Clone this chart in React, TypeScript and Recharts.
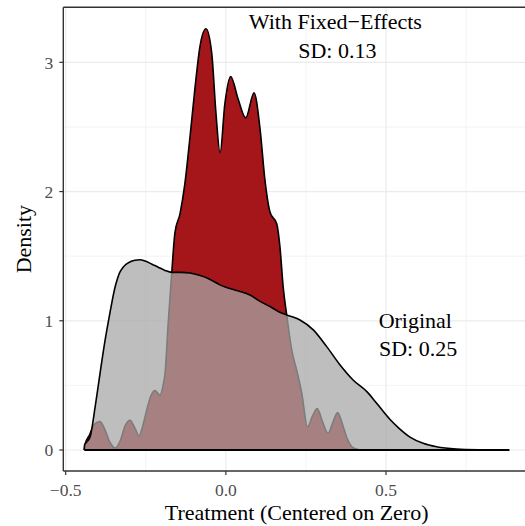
import React from "react";
import {
  ComposedChart,
  Area,
  XAxis,
  YAxis,
  CartesianGrid,
  ReferenceLine,
  ReferenceDot,
  Label,
} from "recharts";

// Fixed-effects density (dark red)
const fixedX = [
  -0.442, -0.44, -0.425, -0.41, -0.393, -0.378, -0.362, -0.346, -0.33, -0.314,
  -0.299, -0.284, -0.271, -0.258, -0.245, -0.232, -0.221, -0.206, -0.196, -0.19,
  -0.18, -0.169, -0.159, -0.143, -0.128, -0.112, -0.096, -0.081, -0.062, -0.044,
  -0.031, -0.018, -0.003, 0.015, 0.039, 0.062, 0.088, 0.107, 0.122, 0.138,
  0.159, 0.169, 0.179, 0.19, 0.206, 0.221, 0.237, 0.255, 0.27, 0.285,
  0.303, 0.319, 0.335, 0.349, 0.364, 0.377, 0.398, 0.42,
];
const fixedY = [
  0, 0.04, 0.12, 0.2, 0.22, 0.16, 0.06, 0.015, 0.07, 0.19,
  0.23, 0.17, 0.11, 0.2, 0.33, 0.43, 0.46, 0.425, 0.5, 0.59,
  0.98, 1.37, 1.68, 1.83, 2.06, 2.42, 2.81, 3.12, 3.26, 3.07,
  2.61, 2.3, 2.68, 2.89, 2.71, 2.57, 2.765, 2.48, 2.09, 1.84,
  1.75, 1.57, 1.26, 1.045, 0.77, 0.62, 0.44, 0.18, 0.26, 0.32,
  0.21, 0.13, 0.22, 0.29, 0.2, 0.1, 0.015, 0,
];

// Original density (grey, translucent)
const origX = [
  -0.442, -0.441, -0.435, -0.424, -0.408, -0.393, -0.377, -0.362, -0.346, -0.338,
  -0.33, -0.322, -0.315, -0.3, -0.284, -0.268, -0.252, -0.232, -0.211, -0.19,
  -0.169, -0.14, -0.112, -0.08, -0.049, -0.02, 0.0, 0.04, 0.075, 0.107,
  0.138, 0.165, 0.19, 0.2315, 0.273, 0.315, 0.356, 0.398, 0.441, 0.465,
  0.491, 0.515, 0.54, 0.575, 0.616, 0.658, 0.72, 0.8, 0.885,
];
const origY = [
  0, 0.04, 0.06, 0.1, 0.335, 0.59, 0.85, 1.06, 1.26, 1.33,
  1.38, 1.41, 1.43, 1.455, 1.468, 1.472, 1.462, 1.44, 1.415, 1.39,
  1.375, 1.375, 1.37, 1.35, 1.32, 1.28, 1.26, 1.23, 1.2, 1.15,
  1.11, 1.07, 1.045, 1.006, 0.93, 0.8, 0.66, 0.54, 0.45, 0.38,
  0.3, 0.23, 0.17, 0.1, 0.052, 0.025, 0.008, 0.002, 0,
];

const xTicks = [-0.5, 0, 0.5];
const xMinor = [-0.25, 0.25, 0.75];
const yTicks = [0, 1, 2, 3];
const yMinor = [0.5, 1.5, 2.5];

const xLabel = "Treatment (Centered on Zero)";
const yLabel = "Density";

const annotations = [
  { x: 0.342, y: 3.316, text: "With Fixed\u2212Effects" },
  { x: 0.348, y: 3.091, text: "SD: 0.13" },
  { x: 0.5915, y: 1.007, text: "Original" },
  { x: 0.6, y: 0.788, text: "SD: 0.25" },
];

const X_DOMAIN: [number, number] = [-0.5075, 0.934];
const Y_DOMAIN: [number, number] = [-0.1625, 3.426];

const FONT = "'Liberation Serif', 'Times New Roman', serif";

// merge the two series into one table keyed by x
const data = (() => {
  const map = new Map<number, { x: number; fixed?: number; original?: number }>();
  fixedX.forEach((x, i) => {
    const r = map.get(x) || { x };
    r.fixed = fixedY[i];
    map.set(x, r);
  });
  origX.forEach((x, i) => {
    const r = map.get(x) || { x };
    r.original = origY[i];
    map.set(x, r);
  });
  return Array.from(map.values()).sort((a, b) => a.x - b.x);
})();

const fmtX = (v: number) =>
  v < 0 ? "\u2212" + Math.abs(v).toFixed(1) : v.toFixed(1);

const XTitle = (props: any) => {
  const vb = props.viewBox || { x: 63, y: 471, width: 462, height: 55 };
  return (
    <text
      x={vb.x + vb.width / 2 + 2.5}
      y={vb.y + 49}
      textAnchor="middle"
      fontSize={22}
      fontFamily={FONT}
      fill="#000"
    >
      {xLabel}
    </text>
  );
};

const YTitle = (props: any) => {
  const vb = props.viewBox || { x: 0, y: 7, width: 63, height: 464 };
  const x = vb.x + 30.5;
  const y = vb.y + vb.height / 2;
  return (
    <text
      x={x}
      y={y}
      transform={`rotate(-90, ${x}, ${y})`}
      textAnchor="middle"
      fontSize={22}
      fontFamily={FONT}
      fill="#000"
    >
      {yLabel}
    </text>
  );
};

export default function App() {
  return (
    <div style={{ position: "absolute", left: 0, top: 0 }}>
      <ComposedChart
        width={525}
        height={526}
        data={data}
        margin={{ top: 7.3, right: 0, left: 0.3, bottom: 0 }}
      >
        <CartesianGrid
          stroke="#ebebeb"
          strokeWidth={0.6}
          horizontalValues={yMinor}
          verticalValues={xMinor}
        />
        <CartesianGrid
          stroke="#ebebeb"
          strokeWidth={1.2}
          horizontalValues={yTicks}
          verticalValues={xTicks}
        />
        <XAxis
          dataKey="x"
          type="number"
          domain={X_DOMAIN}
          ticks={xTicks}
          allowDataOverflow
          height={55}
          tickFormatter={fmtX}
          tickSize={4}
          tickMargin={9}
          axisLine={{ stroke: "#333", strokeWidth: 1.4 }}
          tickLine={{ stroke: "#333", strokeWidth: 1.2 }}
          tick={{ fill: "#4d4d4d", fontSize: 17.5, fontFamily: FONT }}
        >
          <Label content={XTitle} />
        </XAxis>
        <YAxis
          type="number"
          domain={Y_DOMAIN}
          ticks={yTicks}
          allowDataOverflow
          width={63}
          tickSize={4}
          tickMargin={6}
          axisLine={{ stroke: "#333", strokeWidth: 1.4 }}
          tickLine={{ stroke: "#333", strokeWidth: 1.2 }}
          tick={{ fill: "#4d4d4d", fontSize: 17.5, fontFamily: FONT }}
        >
          <Label content={YTitle} />
        </YAxis>
        <Area
          type="monotone"
          dataKey="fixed"
          stroke="#000"
          strokeWidth={1.6}
          fill="#a5161a"
          fillOpacity={1}
          connectNulls
          isAnimationActive={false}
          dot={false}
          activeDot={false}
        />
        <Area
          type="monotone"
          dataKey="original"
          stroke="#000"
          strokeWidth={1.6}
          fill="#a7a7a7"
          fillOpacity={0.74}
          connectNulls
          isAnimationActive={false}
          dot={false}
          activeDot={false}
        />
        <ReferenceLine
          segment={[
            { x: origX[0], y: 0 },
            { x: origX[origX.length - 1], y: 0 },
          ]}
          stroke="#000"
          strokeWidth={2}
          ifOverflow="visible"
        />
        <ReferenceLine
          y={Y_DOMAIN[1]}
          stroke="#333"
          strokeWidth={1.4}
          ifOverflow="visible"
        />
        {annotations.map((a) => (
          <ReferenceDot
            key={a.text}
            x={a.x}
            y={a.y}
            r={0}
            fill="none"
            stroke="none"
            ifOverflow="visible"
            label={{
              value: a.text,
              position: "center",
              fill: "#000",
              fontSize: 22,
              fontFamily: FONT,
            }}
          />
        ))}
      </ComposedChart>
    </div>
  );
}
